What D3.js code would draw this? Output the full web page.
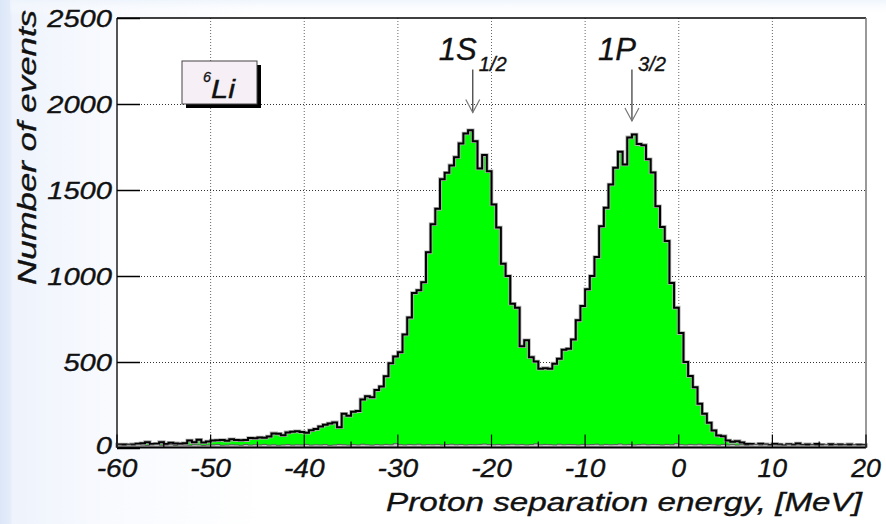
<!DOCTYPE html>
<html>
<head>
<meta charset="utf-8">
<script src="https://cdn.jsdelivr.net/npm/d3@7"></script>
<style>
  html, body { margin: 0; padding: 0; background: #ffffff; }
  svg { display: block; }
  text { font-family: "Liberation Sans", Arial, sans-serif; font-style: italic; fill: #111; stroke: #111; stroke-width: 0.35px; }
</style>
</head>
<body>
<svg id="chart" width="886" height="524"></svg>
<script>
// Histogram binning: 160 bins of 0.5 MeV from -60 to 20 MeV
const xMin = -60;
const xMax = 20;
const binWidth = 0.5;

// Event counts per bin (green histogram)
const counts = [
  17, 17, 16, 18, 22, 25, 31, 20, 22, 31,
  20, 28, 24, 22, 25, 41, 31, 45, 29, 35,
  41, 42, 44, 40, 48, 44, 42, 43, 55, 54,
  58, 57, 64, 82, 80, 72, 88, 92, 95, 90,
  86, 100, 108, 122, 132, 140, 146, 118, 196, 185,
  208, 212, 280, 298, 292, 335, 355, 414, 490, 530,
  555, 658, 756, 899, 915, 962, 1136, 1300, 1389, 1562,
  1599, 1642, 1690, 1770, 1828, 1847, 1783, 1624, 1702, 1608,
  1414, 1280, 1070, 998, 837, 814, 590, 624, 526, 501,
  458, 462, 458, 488, 517, 569, 575, 629, 740, 824,
  921, 998, 1109, 1288, 1395, 1531, 1628, 1721, 1647, 1805,
  1822, 1766, 1760, 1678, 1601, 1404, 1284, 1202, 958, 814,
  666, 497, 416, 351, 254, 196, 144, 99, 70, 66,
  41, 33, 37, 29, 21, 20, 15, 22, 18, 14,
  21, 17, 12, 19, 16, 23, 14, 18, 13, 20,
  16, 11, 19, 15, 17, 13, 18, 12, 16, 14
];

// Background counts per bin (grey histogram)
const background = [
  14, 12, 15, 13, 16, 14, 12, 15, 17, 13, 14, 16, 12, 15, 14, 13, 16, 15, 12, 14,
  15, 17, 13, 14, 16, 15, 13, 17, 14, 16, 15, 18, 14, 16, 13, 15, 17, 14, 16, 15,
  18, 14, 16, 15, 17, 13, 15, 18, 16, 14, 17, 15, 19, 16, 14, 17, 15, 18, 16, 22,
  17, 15, 18, 16, 19, 15, 17, 16, 18, 15, 17, 19, 16, 18, 15, 17, 16, 18, 20, 17,
  16, 18, 15, 17, 19, 16, 18, 15, 17, 21, 16, 18, 17, 15, 19, 16, 18, 17, 15, 18,
  16, 17, 19, 15, 18, 16, 17, 20, 16, 18, 15, 17, 19, 16, 18, 17, 15, 18, 16, 22,
  17, 15, 18, 16, 19, 15, 17, 16, 14, 18, 15, 17, 14, 16, 13, 15, 17, 14, 16, 13,
  15, 14, 12, 16, 13, 15, 14, 12, 15, 13, 14, 16, 12, 15, 13, 14, 12, 15, 13, 14
];

// Axis ticks
const xTicks = [-60, -50, -40, -30, -20, -10, 0, 10, 20];
const xMinorTicks = [-55, -45, -35, -25, -15, -5, 5, 15];
const yTicks = [0, 500, 1000, 1500, 2000, 2500];
const yTickLabels = ["0", "500", "1000", "1500", "2000", "2500"];

// Shell labels with arrows
const peakLabels = [
  { main: "1S", sub: "1/2", x: -22, top: 2200, tip: 1950 },
  { main: "1P", sub: "3/2", x: -5, top: 2200, tip: 1900 }
];

const xTitle = "Proton separation energy, [MeV]";
const yTitle = "Number of events";
const nucleus = { mass: "6", symbol: "Li" };

const svg = d3.select("#chart");
const W = 886, H = 524;
const frame = { left: 117, right: 866, top: 18, bottom: 447.5 };

const x = d3.scaleLinear().domain([xMin, xMax]).range([frame.left, frame.right]);
const y = d3.scaleLinear().domain([0, 2500]).range([frame.bottom, frame.top]);

// Page background: pale blue wash on the left edge
const defs = svg.append("defs");
const bg = defs.append("linearGradient").attr("id", "bgH").attr("x1", 0).attr("x2", 1).attr("y1", 0).attr("y2", 0);
bg.append("stop").attr("offset", "0").attr("stop-color", "#dbe6f7");
bg.append("stop").attr("offset", "0.011").attr("stop-color", "#e4ecf9");
bg.append("stop").attr("offset", "0.014").attr("stop-color", "#eef3fc");
bg.append("stop").attr("offset", "0.12").attr("stop-color", "#f8fafe");
bg.append("stop").attr("offset", "0.3").attr("stop-color", "#ffffff");
svg.append("rect").attr("width", W).attr("height", H).attr("fill", "url(#bgH)");
const bgV = defs.append("linearGradient").attr("id", "bgV").attr("x1", 0).attr("x2", 0).attr("y1", 0).attr("y2", 1);
bgV.append("stop").attr("offset", "0").attr("stop-color", "#eef4fc").attr("stop-opacity", 0.9);
bgV.append("stop").attr("offset", "1").attr("stop-color", "#ffffff").attr("stop-opacity", 0);
svg.append("rect").attr("x", 10).attr("width", W - 10).attr("height", 16).attr("fill", "url(#bgV)");

// Plot area
svg.append("rect")
  .attr("x", frame.left).attr("y", frame.top)
  .attr("width", frame.right - frame.left).attr("height", frame.bottom - frame.top)
  .attr("fill", "#ffffff");

// Grid
const grid = svg.append("g");
grid.selectAll("line.gx").data(xTicks.filter(d => d > xMin && d < xMax)).join("line")
  .attr("x1", d => x(d)).attr("x2", d => x(d))
  .attr("y1", frame.top).attr("y2", frame.bottom)
  .attr("stroke", "#666").attr("stroke-width", 1).attr("stroke-dasharray", "1,2");
grid.selectAll("line.gy").data(yTicks.filter(d => d > 0 && d < 2500)).join("line")
  .attr("x1", frame.left).attr("x2", frame.right)
  .attr("y1", d => Math.round(y(d)) + 0.5).attr("y2", d => Math.round(y(d)) + 0.5)
  .attr("stroke", "#333").attr("stroke-width", 1).attr("stroke-dasharray", "1,2");

// Step path for a histogram
function stepPath(values) {
  const p = d3.path();
  p.moveTo(x(xMin), y(0));
  values.forEach((v, i) => {
    const e0 = xMin + i * binWidth, e1 = e0 + binWidth;
    p.lineTo(x(e0), y(v));
    p.lineTo(x(e1), y(v));
  });
  p.lineTo(x(xMax), y(0));
  return p.toString();
}

const hist = svg.append("g");
hist.append("path").attr("d", stepPath(counts) + "Z")
  .attr("fill", "#00ff00").attr("stroke", "none");
hist.append("path").attr("d", stepPath(counts))
  .attr("fill", "none").attr("stroke", "#b0b0b0").attr("stroke-width", 3.6)
  .attr("stroke-linejoin", "miter");
hist.append("path").attr("d", stepPath(counts))
  .attr("fill", "none").attr("stroke", "#000").attr("stroke-width", 2)
  .attr("stroke-linejoin", "miter");
hist.append("path").attr("d", stepPath(background) + "Z")
  .attr("fill", "#c8c8c8").attr("stroke", "#5a5a5a").attr("stroke-width", 1);

// Frame
svg.append("line").attr("x1", frame.left).attr("x2", frame.right).attr("y1", frame.top).attr("y2", frame.top)
  .attr("stroke", "#000").attr("stroke-width", 1.5);
svg.append("line").attr("x1", frame.left).attr("x2", frame.right).attr("y1", frame.bottom).attr("y2", frame.bottom)
  .attr("stroke", "#000").attr("stroke-width", 2);
svg.append("line").attr("x1", frame.left).attr("x2", frame.left).attr("y1", frame.top).attr("y2", frame.bottom)
  .attr("stroke", "#555").attr("stroke-width", 2);
svg.append("line").attr("x1", frame.right).attr("x2", frame.right).attr("y1", frame.top).attr("y2", frame.bottom)
  .attr("stroke", "#777").attr("stroke-width", 1.5);

// X ticks (pointing up into the plot)
const ticks = svg.append("g").attr("stroke", "#000").attr("stroke-width", 1.2);
ticks.selectAll("line.xt").data(xTicks).join("line")
  .attr("x1", d => x(d)).attr("x2", d => x(d))
  .attr("y1", frame.bottom).attr("y2", frame.bottom - 13);
ticks.selectAll("line.xm").data(xMinorTicks).join("line")
  .attr("x1", d => x(d)).attr("x2", d => x(d))
  .attr("y1", frame.bottom).attr("y2", frame.bottom - 6);
// Y ticks (pointing right into the plot)
ticks.selectAll("line.yt").data(yTicks).join("line")
  .attr("x1", frame.left).attr("x2", frame.left + 23)
  .attr("y1", d => Math.round(y(d)) + 0.5).attr("y2", d => Math.round(y(d)) + 0.5)
  .attr("stroke-width", 1.5);

// Text helper with explicit width
function label(g, str, px, py, size, len, anchor) {
  const t = g.append("text").attr("x", px).attr("y", py)
    .attr("font-size", size).attr("text-anchor", anchor || "start").text(str);
  if (len) t.attr("textLength", len).attr("lengthAdjust", "spacingAndGlyphs");
  return t;
}

const labels = svg.append("g");
// X tick labels
xTicks.forEach(d => {
  const s = String(d);
  const len = s.replace("-", "").length * 14.8 + (s.startsWith("-") ? 11 : 0);
  label(labels, s, x(d), 477, 25, len, "middle");
});
// Y tick labels
yTicks.forEach((d, i) => {
  const s = yTickLabels[i];
  const py = d === 0 ? y(d) + 6 : y(d) + 9;
  label(labels, s, 112, py, 24, s.length * 16.2, "end");
});

// Axis titles
label(labels, xTitle, 862, 511, 26, 476, "end");
labels.append("text")
  .attr("transform", "translate(36,285) rotate(-90)")
  .attr("font-size", 26.5).attr("textLength", 275).attr("lengthAdjust", "spacingAndGlyphs")
  .text(yTitle);

// Nucleus box with drop shadow
const boxG = svg.append("g");
const box = { x: 182, y: 61, w: 75, h: 43 };
boxG.append("rect").attr("x", box.x + 4).attr("y", box.y + 4).attr("width", box.w).attr("height", box.h).attr("fill", "#000");
boxG.append("rect").attr("x", box.x).attr("y", box.y).attr("width", box.w).attr("height", box.h)
  .attr("fill", "#f6eff5").attr("stroke", "#444").attr("stroke-width", 1);
label(boxG, nucleus.mass, 203, 82, 15, 8);
label(boxG, nucleus.symbol, 211, 98, 25, 24);

// Shell labels and arrows
const ann = svg.append("g");
peakLabels.forEach(p => {
  const px = x(p.x);
  label(ann, p.main, px - 34, 60, 32, 38);
  label(ann, p.sub, px + 6, 71, 20, 28);
  ann.append("line").attr("x1", px).attr("x2", px).attr("y1", y(p.top)).attr("y2", y(p.tip))
    .attr("stroke", "#333").attr("stroke-width", 1.2);
  ann.append("path")
    .attr("d", `M${px - 7},${y(p.tip) - 13}L${px},${y(p.tip)}L${px + 7},${y(p.tip) - 13}`)
    .attr("fill", "none").attr("stroke", "#777").attr("stroke-width", 1.2);
});
</script>
</body>
</html>
